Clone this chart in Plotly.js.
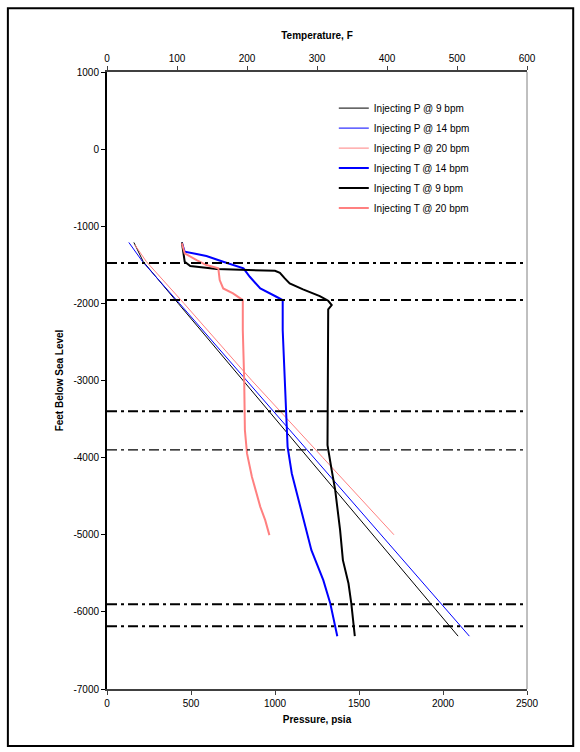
<!DOCTYPE html>
<html>
<head>
<meta charset="utf-8">
<script src="https://cdn.plot.ly/plotly-3.0.1.min.js"></script>
<style>html,body{margin:0;padding:0;background:#fff;}#chart{width:580px;height:752px;}</style>
</head>
<body>
<div id="chart"></div>
<script>
// ---------- data ----------
const pressureTicks = [0, 500, 1000, 1500, 2000, 2500];
const temperatureTicks = [0, 100, 200, 300, 400, 500, 600];
const depthTicks = [1000, 0, -1000, -2000, -3000, -4000, -5000, -6000, -7000];
const depthTickText = ["1000", "0", "-1000", "-2000", "-3000", "-4000", "-5000", "-6000", "-7000"];

// Pressure profiles (psia) vs depth (ft)
const depthP9 = [-1210, -1300, -1460, -2000, -3000, -4000, -5000, -6000, -6315];
const presP9 = [160, 180, 216, 424, 810, 1196, 1582, 1968, 2090];
const depthP14 = [-1210, -1300, -1460, -2000, -3000, -4000, -5000, -6000, -6315];
const presP14 = [130, 160, 212, 431, 831, 1231, 1631, 2031, 2157];
const depthP20 = [-1240, -1300, -1460, -2000, -3000, -4000, -5000];
const presP20 = [165, 185, 235, 458, 862, 1285, 1708];

// Temperature profiles (F) vs depth (ft)
const depthT14 = [-1214, -1330, -1360, -1386, -1460, -1546, -1655, -1806, -1914, -1957, -2346, -2995, -3514, -3860, -4205, -4638, -4940, -5200, -5589, -5891, -6315];
const tempT14 = [107, 111, 128, 142, 166, 195, 204, 219, 242, 251, 251, 254, 256, 258, 264, 276, 285, 292, 309, 319, 329];
const depthT9 = [-1210, -1460, -1516, -1555, -1577, -1603, -1676, -1741, -1818, -1905, -1966, -2022, -2078, -2346, -2995, -3838, -4162, -4421, -4940, -5329, -5632, -5891, -6315];
const tempT9 = [107, 111, 119, 157, 240, 247, 254, 261, 280, 304, 316, 321, 316, 316, 315, 315, 321, 326, 333, 337, 345, 349, 354];
const depthT20 = [-1220, -1352, -1438, -1503, -1546, -1698, -1806, -1870, -1957, -2346, -2995, -3643, -3946, -4249, -4638, -4811, -5005];
const tempT20 = [107, 111, 128, 142, 159, 161, 166, 180, 194, 194, 196, 197, 200, 207, 219, 226, 232];

// Formation marker depths (ft)
const markerDepths = [-1475, -1955, -3400, -5900, -6185];
const thinMarkerDepths = [-3900];

// ---------- chart ----------
const FONT = "Liberation Sans, Arial, sans-serif";
const BLACK = "#000000", BLUE = "#0000FF", PINK = "#FF8080";

const traces = [
  {name: "Injecting P @ 9 bpm", x: presP9, y: depthP9, xaxis: "x", yaxis: "y", mode: "lines", line: {color: BLACK, width: 1}, legendgroup: "g1"},
  {name: "Injecting P @ 14 bpm", x: presP14, y: depthP14, xaxis: "x", yaxis: "y", mode: "lines", line: {color: BLUE, width: 1}, legendgroup: "g2"},
  {name: "Injecting P @ 20 bpm", x: presP20, y: depthP20, xaxis: "x", yaxis: "y", mode: "lines", line: {color: PINK, width: 1}, legendgroup: "g3"},
  {name: "Injecting T @ 14 bpm", x: tempT14, y: depthT14, xaxis: "x2", yaxis: "y", mode: "lines", line: {color: BLUE, width: 2}, legendgroup: "g4"},
  {name: "Injecting T @ 9 bpm", x: tempT9, y: depthT9, xaxis: "x2", yaxis: "y", mode: "lines", line: {color: BLACK, width: 2}, legendgroup: "g5"},
  {name: "Injecting T @ 20 bpm", x: tempT20, y: depthT20, xaxis: "x2", yaxis: "y", mode: "lines", line: {color: PINK, width: 2}, legendgroup: "g6"}
];

const shapes = [];
markerDepths.forEach(d => shapes.push({type: "line", xref: "paper", yref: "y", x0: 0, x1: 1, y0: d, y1: d,
  line: {color: BLACK, width: 2, dash: "10px,4px,3px,4px"}}));
thinMarkerDepths.forEach(d => shapes.push({type: "line", xref: "paper", yref: "y", x0: 0, x1: 1, y0: d, y1: d,
  line: {color: BLACK, width: 1.4, dash: "10px,4px,3px,4px"}}));
// right plot border
shapes.push({type: "line", xref: "paper", yref: "paper", x0: 1, x1: 1, y0: 0, y1: 1, line: {color: "#808080", width: 1}});
// outer chart border
shapes.push({type: "rect", xref: "paper", yref: "paper", x0: -0.236, x1: 1.110, y0: -0.0925, y1: 1.1035,
  line: {color: BLACK, width: 2}, fillcolor: "rgba(0,0,0,0)"});

const tickFont = {family: FONT, size: 10, color: "#000"};
const titleFont = {family: FONT, size: 10, color: "#000", weight: "bold"};

function innerTicks(extra) {
  return Object.assign({ticks: "inside", ticklen: 4, tickwidth: 1, showticklabels: false,
    showline: false, showgrid: false, zeroline: false}, extra);
}

const layout = {
  width: 580, height: 752,
  margin: {l: 107, r: 53, t: 72, b: 63},
  paper_bgcolor: "#fff", plot_bgcolor: "#fff",
  font: {family: FONT, size: 10, color: "#000"},
  showlegend: true,
  legend: {x: 0.54, y: 0.965, xanchor: "left", yanchor: "top", bgcolor: "rgba(0,0,0,0)",
    font: {family: FONT, size: 10, color: "#000"}, traceorder: "grouped", tracegroupgap: 1, itemwidth: 30},
  xaxis: {range: [0, 2500], tickvals: pressureTicks, ticktext: pressureTicks.map(String),
    ticks: "outside", ticklen: 4, tickwidth: 1, tickcolor: "#404040",
    showline: true, linecolor: "#404040", linewidth: 2, showgrid: false, zeroline: false,
    tickfont: tickFont, title: {text: "Pressure, psia", font: titleFont, standoff: 8}, anchor: "y"},
  xaxis2: {range: [0, 600], tickvals: temperatureTicks, ticktext: temperatureTicks.map(String),
    overlaying: "x", side: "top", anchor: "y",
    ticks: "outside", ticklen: 4, tickwidth: 1, tickcolor: "#404040",
    showline: true, linecolor: "#404040", linewidth: 2, showgrid: false, zeroline: false,
    tickfont: tickFont, title: {text: "Temperature, F", font: titleFont, standoff: 12}},
  xaxis3: innerTicks({range: [0, 2500], tickvals: pressureTicks, overlaying: "x", side: "bottom", anchor: "y", tickcolor: "#404040"}),
  xaxis4: innerTicks({range: [0, 600], tickvals: temperatureTicks, overlaying: "x", side: "top", anchor: "y", tickcolor: "#404040"}),
  yaxis: {range: [-7000, 1000], tickvals: depthTicks, ticktext: depthTickText,
    ticks: "outside", ticklen: 4, tickwidth: 1, tickcolor: "#000",
    showline: true, linecolor: "#000", linewidth: 2, showgrid: false, zeroline: false,
    tickfont: tickFont, title: {text: "Feet Below Sea Level", font: titleFont, standoff: 8}},
  yaxis2: innerTicks({range: [-7000, 1000], tickvals: depthTicks, overlaying: "y", side: "left", anchor: "x", tickcolor: "#000"}),
  shapes: shapes
};

Plotly.newPlot("chart", traces, layout, {displayModeBar: false, staticPlot: true});
</script>
</body>
</html>
